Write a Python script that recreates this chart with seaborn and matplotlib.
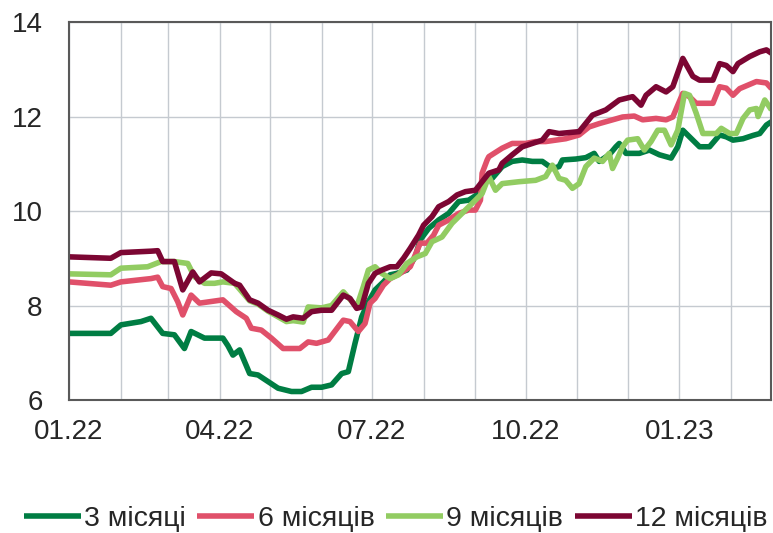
import pandas as pd
import numpy as np
import seaborn as sns
import matplotlib.pyplot as plt
import matplotlib.dates as mdates

# series values (per cent)
dates_3m = ["2022-01-01", "2022-01-26", "2022-02-01", "2022-02-13", "2022-02-19", "2022-02-26",
            "2022-03-05", "2022-03-11", "2022-03-15", "2022-03-19", "2022-03-23", "2022-04-03",
            "2022-04-06", "2022-04-09", "2022-04-13", "2022-04-19", "2022-04-24", "2022-04-30",
            "2022-05-06", "2022-05-14", "2022-05-20", "2022-05-26", "2022-06-01", "2022-06-07",
            "2022-06-13", "2022-06-17", "2022-06-21", "2022-06-25", "2022-06-29", "2022-07-03",
            "2022-07-08", "2022-07-12", "2022-07-16", "2022-07-22", "2022-07-27", "2022-07-30",
            "2022-08-04", "2022-08-10", "2022-08-16", "2022-08-22", "2022-08-28", "2022-09-03",
            "2022-09-07", "2022-09-11", "2022-09-17", "2022-09-23", "2022-09-29", "2022-10-05",
            "2022-10-11", "2022-10-17", "2022-10-21", "2022-10-23", "2022-10-31", "2022-11-06",
            "2022-11-11", "2022-11-14", "2022-11-20", "2022-11-24", "2022-11-26", "2022-11-30",
            "2022-12-08", "2022-12-14", "2022-12-20", "2022-12-27", "2022-12-31", "2023-01-03",
            "2023-01-09", "2023-01-13", "2023-01-19", "2023-01-25", "2023-01-29", "2023-02-02",
            "2023-02-08", "2023-02-14", "2023-02-18", "2023-02-22", "2023-02-25"]
values_3m = [7.41, 7.41, 7.59, 7.66, 7.73, 7.41,
             7.38, 7.09, 7.45, 7.38, 7.31, 7.31,
             7.15, 6.95, 7.06, 6.56, 6.53, 6.39,
             6.25, 6.18, 6.18, 6.27, 6.27, 6.32,
             6.56, 6.60, 7.20, 7.76, 8.08, 8.33,
             8.50, 8.65, 8.68, 8.75, 9.03, 9.39,
             9.63, 9.81, 9.95, 10.20, 10.23, 10.37,
             10.65, 10.69, 10.94, 11.05, 11.08, 11.05,
             11.05, 10.90, 10.94, 11.08, 11.10, 11.13,
             11.22, 11.05, 11.19, 11.36, 11.43, 11.22,
             11.22, 11.29, 11.19, 11.12, 11.36, 11.71,
             11.50, 11.36, 11.36, 11.61, 11.57, 11.50,
             11.53, 11.60, 11.64, 11.82, 11.89]

dates_6m = ["2022-01-01", "2022-01-26", "2022-02-01", "2022-02-19", "2022-02-23", "2022-02-26",
            "2022-03-03", "2022-03-07", "2022-03-10", "2022-03-15", "2022-03-20", "2022-03-26",
            "2022-04-03", "2022-04-11", "2022-04-17", "2022-04-20", "2022-04-26", "2022-05-02",
            "2022-05-09", "2022-05-14", "2022-05-19", "2022-05-24", "2022-05-29", "2022-06-05",
            "2022-06-14", "2022-06-18", "2022-06-23", "2022-06-27", "2022-06-30", "2022-07-03",
            "2022-07-08", "2022-07-12", "2022-07-18", "2022-07-24", "2022-07-30", "2022-08-03",
            "2022-08-07", "2022-08-10", "2022-08-16", "2022-08-22", "2022-08-28", "2022-09-01",
            "2022-09-04", "2022-09-05", "2022-09-08", "2022-09-09", "2022-09-17", "2022-09-23",
            "2022-10-01", "2022-10-07", "2022-10-13", "2022-10-19", "2022-10-25", "2022-11-02",
            "2022-11-08", "2022-11-14", "2022-11-22", "2022-11-28", "2022-12-05", "2022-12-10",
            "2022-12-18", "2022-12-24", "2022-12-28", "2023-01-03", "2023-01-07", "2023-01-11",
            "2023-01-21", "2023-01-25", "2023-01-29", "2023-02-02", "2023-02-06", "2023-02-16",
            "2023-02-22", "2023-02-25"]
values_6m = [8.50, 8.43, 8.50, 8.57, 8.60, 8.40,
             8.36, 8.08, 7.80, 8.22, 8.05, 8.08,
             8.12, 7.87, 7.73, 7.52, 7.48, 7.31,
             7.09, 7.09, 7.09, 7.23, 7.20, 7.27,
             7.69, 7.66, 7.45, 7.62, 8.05, 8.15,
             8.43, 8.57, 8.68, 8.82, 9.32, 9.32,
             9.49, 9.70, 9.81, 9.95, 10.02, 10.02,
             10.23, 10.80, 11.08, 11.15, 11.33, 11.43,
             11.43, 11.47, 11.47, 11.50, 11.53, 11.61,
             11.78, 11.85, 11.93, 11.99, 12.01, 11.93,
             11.96, 11.93, 11.99, 12.49, 12.42, 12.28,
             12.28, 12.63, 12.60, 12.45, 12.59, 12.74,
             12.71, 12.59]

dates_9m = ["2022-01-01", "2022-01-26", "2022-02-01", "2022-02-17", "2022-02-25", "2022-03-05",
            "2022-03-13", "2022-03-17", "2022-03-23", "2022-03-29", "2022-04-03", "2022-04-10",
            "2022-04-19", "2022-04-24", "2022-04-30", "2022-05-06", "2022-05-11", "2022-05-15",
            "2022-05-21", "2022-05-24", "2022-06-01", "2022-06-07", "2022-06-14", "2022-06-22",
            "2022-06-26", "2022-06-29", "2022-07-03", "2022-07-07", "2022-07-12", "2022-07-17",
            "2022-07-22", "2022-07-28", "2022-08-02", "2022-08-06", "2022-08-12", "2022-08-18",
            "2022-08-24", "2022-08-30", "2022-09-05", "2022-09-09", "2022-09-13", "2022-09-17",
            "2022-09-27", "2022-10-07", "2022-10-13", "2022-10-17", "2022-10-21", "2022-10-25",
            "2022-10-29", "2022-11-02", "2022-11-06", "2022-11-11", "2022-11-16", "2022-11-20",
            "2022-11-22", "2022-11-25", "2022-11-28", "2022-12-01", "2022-12-07", "2022-12-11",
            "2022-12-15", "2022-12-19", "2022-12-23", "2022-12-27", "2022-12-31", "2023-01-04",
            "2023-01-07", "2023-01-11", "2023-01-15", "2023-01-23", "2023-01-26", "2023-01-31",
            "2023-02-04", "2023-02-08", "2023-02-12", "2023-02-16", "2023-02-17", "2023-02-21",
            "2023-02-25"]
values_9m = [8.67, 8.65, 8.79, 8.82, 8.93, 8.93,
             8.89, 8.61, 8.47, 8.47, 8.50, 8.47,
             8.10, 8.03, 7.88, 7.76, 7.66, 7.68,
             7.65, 7.97, 7.95, 8.00, 8.29, 7.97,
             8.40, 8.75, 8.82, 8.68, 8.57, 8.65,
             8.89, 9.03, 9.10, 9.35, 9.45, 9.74,
             9.95, 10.16, 10.37, 10.73, 10.44, 10.58,
             10.62, 10.65, 10.73, 10.97, 10.69, 10.65,
             10.48, 10.58, 10.94, 11.12, 11.05, 11.22,
             10.90, 11.12, 11.36, 11.50, 11.53, 11.29,
             11.47, 11.71, 11.71, 11.40, 11.71, 12.49,
             12.45, 12.07, 11.64, 11.64, 11.75, 11.64,
             11.64, 11.96, 12.14, 12.17, 12.00, 12.35,
             12.14]

dates_12m = ["2022-01-01", "2022-01-26", "2022-02-01", "2022-02-19", "2022-02-23", "2022-02-26",
             "2022-03-05", "2022-03-10", "2022-03-16", "2022-03-20", "2022-03-27", "2022-04-02",
             "2022-04-10", "2022-04-13", "2022-04-19", "2022-04-24", "2022-04-30", "2022-05-06",
             "2022-05-11", "2022-05-15", "2022-05-21", "2022-05-26", "2022-06-01", "2022-06-07",
             "2022-06-14", "2022-06-18", "2022-06-22", "2022-06-25", "2022-06-29", "2022-07-03",
             "2022-07-07", "2022-07-12", "2022-07-16", "2022-07-20", "2022-07-24", "2022-07-29",
             "2022-08-01", "2022-08-06", "2022-08-10", "2022-08-16", "2022-08-21", "2022-08-26",
             "2022-09-01", "2022-09-05", "2022-09-09", "2022-09-15", "2022-09-17", "2022-09-23",
             "2022-09-29", "2022-10-05", "2022-10-11", "2022-10-15", "2022-10-21", "2022-11-02",
             "2022-11-10", "2022-11-18", "2022-11-26", "2022-12-04", "2022-12-09", "2022-12-12",
             "2022-12-18", "2022-12-24", "2022-12-28", "2023-01-03", "2023-01-09", "2023-01-13",
             "2023-01-21", "2023-01-25", "2023-01-29", "2023-02-02", "2023-02-05", "2023-02-12",
             "2023-02-18", "2023-02-22", "2023-02-25"]
values_12m = [9.03, 9.00, 9.12, 9.15, 9.16, 8.93,
              8.93, 8.33, 8.71, 8.50, 8.69, 8.67,
              8.47, 8.43, 8.12, 8.05, 7.90, 7.80,
              7.71, 7.76, 7.73, 7.87, 7.90, 7.90,
              8.22, 8.15, 7.94, 7.97, 8.47, 8.68,
              8.75, 8.82, 8.82, 9.00, 9.21, 9.49,
              9.70, 9.88, 10.09, 10.20, 10.34, 10.41,
              10.44, 10.62, 10.80, 10.87, 11.01, 11.19,
              11.36, 11.43, 11.50, 11.68, 11.64, 11.68,
              12.03, 12.14, 12.35, 12.42, 12.24, 12.45,
              12.63, 12.52, 12.63, 13.23, 12.85, 12.77,
              12.77, 13.12, 13.08, 12.95, 13.12, 13.27,
              13.37, 13.41, 13.34]

labels = ["3 місяці", "6 місяців", "9 місяців", "12 місяців"]
colors = ["#007D43", "#E0506A", "#92CC62", "#7C0633"]

frames = []
for lab, d, v in zip(labels, [dates_3m, dates_6m, dates_9m, dates_12m],
                     [values_3m, values_6m, values_9m, values_12m]):
    frames.append(pd.DataFrame({"date": pd.to_datetime(d), "rate": v, "term": lab}))
df = pd.concat(frames, ignore_index=True)

sns.set_style("white")
plt.rcParams["font.family"] = ["Liberation Sans", "DejaVu Sans"]

fig = plt.figure(figsize=(7.73, 5.33), dpi=100)
ax = fig.add_axes([0.0893, 0.2495, 0.9087, 0.7092])

sns.lineplot(data=df, x="date", y="rate", hue="term", hue_order=labels,
             palette=colors, linewidth=4.0, estimator=None, ax=ax,
             solid_joinstyle="round", solid_capstyle="butt")

ax.set_xlim(pd.Timestamp("2022-01-01"), pd.Timestamp("2023-02-25"))
ax.set_ylim(6, 14)
ax.set_yticks([6, 8, 10, 12, 14])
ax.set_xlabel("")
ax.set_ylabel("")

ax.xaxis.set_major_locator(mdates.MonthLocator(bymonth=[1, 4, 7, 10]))
ax.xaxis.set_major_formatter(mdates.DateFormatter("%m.%y"))
ax.xaxis.set_minor_locator(mdates.MonthLocator())

ax.grid(True, which="both", axis="x", color="#c5cad0", linewidth=1)
ax.grid(True, which="major", axis="y", color="#c5cad0", linewidth=1)
ax.set_axisbelow(True)

for s in ax.spines.values():
    s.set_color("#595959")
    s.set_linewidth(1.5)

ax.tick_params(axis="x", which="both", direction="in", length=5, width=1.8,
               color="#595959", labelsize=20, pad=14)
ax.tick_params(axis="y", length=0, labelsize=20, pad=19)

leg = ax.legend(loc="center", bbox_to_anchor=(0.512, 0.026), bbox_transform=fig.transFigure,
                ncol=4, frameon=False, fontsize=20.5, handlelength=2.0, handletextpad=0.12,
                columnspacing=0.4, borderaxespad=0)
for h in leg.get_lines():
    h.set_linewidth(4.0)

fig.savefig("out.png", dpi=100)
